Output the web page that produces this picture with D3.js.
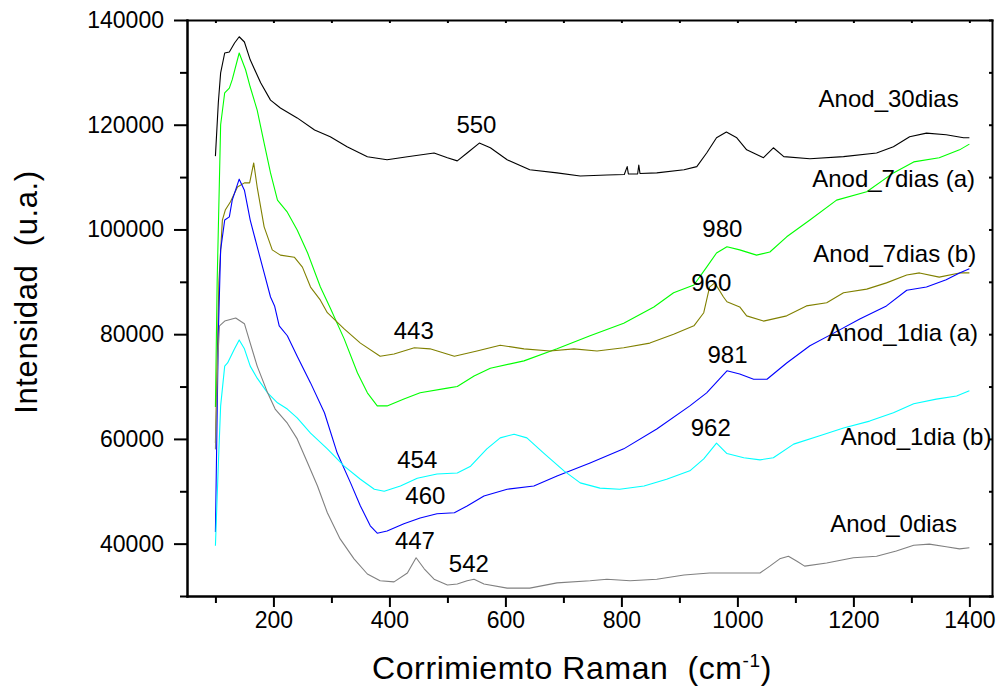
<!DOCTYPE html>
<html>
<head>
<meta charset="utf-8">
<script src="https://cdn.jsdelivr.net/npm/d3@7"></script>
<style>
  body { margin: 0; background: #fff; }
  svg { display: block; font-family: "Liberation Sans", Arial, sans-serif; }
  .axis path, .axis line { stroke: #000; stroke-width: 2; }
  .axis text { font-size: 23px; fill: #000; }
  .note { font-size: 24px; fill: #000; }
</style>
</head>
<body>
<script>
// ----- Data (Raman shift in cm-1, intensity in u.a.) -----

const seriesNames = ["Anod_30dias", "Anod_7dias (a)", "Anod_7dias (b)", "Anod_1dia (a)", "Anod_1dia (b)", "Anod_0dias"];
const seriesColors = ["#000000", "#00ff00", "#808000", "#0000ff", "#00ffff", "#808080"];

const shift30 = [100, 105, 109, 116, 124, 133, 141, 150, 160, 178, 195, 212, 241, 271, 298, 327, 362, 396, 431, 477, 500, 517, 534, 555, 574, 603, 642, 689, 729, 775, 805, 810, 812, 828, 830, 832, 861, 908, 930, 947, 964, 981, 999, 1016, 1045, 1062, 1080, 1125, 1183, 1240, 1269, 1297, 1326, 1360, 1390, 1400];
const int30 = [114000, 124200, 129900, 133700, 133900, 135600, 136800, 135800, 132400, 128000, 124700, 123200, 121300, 119000, 117700, 115800, 113900, 113300, 113900, 114600, 113700, 113100, 114600, 116500, 115600, 113300, 111400, 110800, 110200, 110400, 110500, 112000, 110600, 110600, 112300, 110700, 110800, 111400, 112000, 114600, 117500, 118600, 117500, 115200, 113700, 115600, 113900, 113500, 113900, 114600, 115800, 117700, 118400, 118100, 117500, 117500];

const shift7a = [100, 103, 109, 116, 124, 129, 141, 152, 160, 172, 184, 195, 207, 224, 241, 259, 281, 298, 322, 345, 362, 379, 396, 425, 453, 500, 517, 546, 574, 632, 689, 746, 804, 856, 890, 925, 947, 964, 982, 1004, 1033, 1056, 1085, 1125, 1171, 1223, 1269, 1304, 1348, 1383, 1400];
const int7a = [66100, 90000, 120000, 126100, 127000, 128600, 133700, 130500, 127200, 122800, 116500, 110800, 105600, 103300, 99900, 95500, 89000, 85000, 79100, 72600, 68800, 66300, 66300, 67600, 68800, 69700, 70000, 72000, 73500, 74900, 77200, 79700, 82100, 85200, 87900, 89400, 92800, 95500, 96700, 96100, 95100, 95700, 98600, 101800, 105600, 107200, 110800, 112900, 113700, 115200, 116300];

const shift7b = [100, 106, 112, 117, 126, 138, 150, 159, 166, 172, 184, 198, 212, 236, 250, 264, 281, 293, 322, 350, 384, 408, 443, 470, 512, 551, 591, 632, 677, 718, 758, 804, 849, 890, 925, 942, 952, 961, 976, 982, 1004, 1016, 1045, 1085, 1119, 1154, 1183, 1223, 1257, 1292, 1314, 1348, 1383, 1400];
const int7b = [59200, 90000, 101800, 103700, 105300, 108100, 108900, 108900, 112700, 108100, 100500, 96100, 95100, 94700, 92800, 89000, 86500, 84100, 81000, 78300, 75800, 76200, 77400, 77200, 75800, 76800, 77900, 77200, 76800, 77200, 76800, 77400, 78300, 80000, 81600, 84100, 89000, 89800, 87100, 86200, 85200, 83500, 82500, 83500, 85400, 86000, 87900, 88600, 89800, 91300, 91700, 90900, 91700, 91700];

const shift1a = [100, 105, 109, 116, 124, 129, 141, 150, 160, 172, 184, 195, 202, 210, 224, 241, 264, 288, 310, 333, 350, 367, 379, 396, 425, 453, 482, 512, 534, 563, 603, 649, 689, 746, 804, 861, 918, 947, 982, 1004, 1028, 1051, 1085, 1125, 1166, 1211, 1257, 1292, 1326, 1360, 1383, 1400];
const int1a = [42200, 80000, 96100, 101800, 102400, 105600, 109600, 107500, 101800, 96700, 91700, 87100, 85400, 81600, 79700, 75800, 70700, 65000, 57300, 51600, 47200, 43400, 42000, 42400, 43800, 44900, 45700, 45900, 47200, 49100, 50400, 51000, 52900, 55400, 58100, 61900, 66300, 68800, 73000, 72400, 71400, 71400, 74500, 77800, 80200, 82900, 85400, 88400, 89000, 90400, 91700, 92500];

const shift1b = [100, 105, 109, 116, 121, 133, 141, 150, 160, 172, 190, 207, 224, 241, 264, 293, 322, 350, 374, 391, 419, 448, 482, 517, 540, 568, 591, 615, 637, 666, 701, 729, 763, 797, 839, 878, 918, 942, 964, 982, 1011, 1039, 1062, 1097, 1142, 1183, 1228, 1269, 1304, 1343, 1378, 1400];
const int1b = [39600, 55000, 66300, 73900, 74500, 77200, 78900, 77200, 73900, 71600, 68800, 66900, 65700, 64000, 61100, 58100, 54800, 52300, 50400, 50000, 51000, 52500, 53300, 53500, 54800, 58100, 60200, 60900, 60200, 57300, 53900, 51600, 50600, 50400, 51000, 52300, 53900, 56200, 59200, 57200, 56400, 56000, 56400, 59000, 60600, 62100, 63400, 65000, 66700, 67600, 68200, 69200];

const shift0 = [100, 104, 107, 116, 135, 150, 160, 172, 190, 203, 224, 241, 259, 276, 293, 315, 339, 362, 384, 408, 431, 446, 460, 477, 500, 517, 534, 546, 563, 603, 642, 689, 746, 775, 815, 861, 908, 952, 1011, 1039, 1056, 1073, 1088, 1102, 1116, 1154, 1200, 1240, 1274, 1304, 1331, 1360, 1383, 1400];
const int0 = [58000, 75000, 81600, 82500, 83100, 82000, 78300, 73900, 68800, 65700, 63000, 60000, 55400, 51000, 45900, 40900, 37100, 34200, 32900, 32700, 34400, 37300, 35200, 33200, 32100, 32300, 32900, 33200, 32300, 31500, 31500, 32500, 32900, 33200, 32900, 33200, 34000, 34400, 34400, 34400, 35700, 37100, 37600, 36700, 35700, 36300, 37300, 37600, 38600, 39700, 39900, 39400, 39000, 39200];

// series name labels, anchored at (shift, intensity)
const nameShift = [1140, 1129, 1131, 1155, 1178, 1160];
const nameInt = [123400, 108100, 93800, 78700, 58840, 42220];

// peak labels
const peakLabels = ["550", "980", "960", "443", "981", "962", "454", "460", "447", "542"];
const peakShift = [550, 974, 955, 442, 983, 954, 448, 462, 444, 537];
const peakInt = [118400, 98570, 88250, 79090, 74560, 60560, 54500, 47570, 38980, 34640];

const majorX = [200, 400, 600, 800, 1000, 1200, 1400];
const minorX = [100, 300, 500, 700, 900, 1100, 1300];
const majorY = [40000, 60000, 80000, 100000, 120000, 140000];
const minorY = [30000, 50000, 70000, 90000, 110000, 130000];

// ----- Layout -----
const Width = 1002, Height = 692;
const PlotLeft = 187, PlotRight = 992, PlotTop = 20, PlotBottom = 596;

function main() {
    const svg = d3.select("body").append("svg")
        .attr("width", Width)
        .attr("height", Height);

    const scaleX = d3.scaleLinear()
        .domain([51, 1439])
        .range([PlotLeft, PlotRight]);
    const scaleY = d3.scaleLinear()
        .domain([30000, 140000])
        .range([PlotBottom, PlotTop]);

    const allSeries = [
        [shift30, int30], [shift7a, int7a], [shift7b, int7b],
        [shift1a, int1a], [shift1b, int1b], [shift0, int0]
    ];

    // Curves (drawn first so the frame sits on top)
    const line = d3.line()
        .x(d => scaleX(d[0]))
        .y(d => scaleY(d[1]));
    const curves = svg.append("g").attr("class", "curves");
    allSeries.forEach(([xs, ys], i) => {
        curves.append("path")
            .datum(xs.map((x, j) => [x, ys[j]]))
            .attr("fill", "none")
            .attr("stroke", seriesColors[i])
            .attr("stroke-width", 1.1)
            .attr("stroke-linejoin", "round")
            .attr("d", line);
    });

    // Bottom axis: major with labels, minor without
    svg.append("g")
        .attr("class", "axis")
        .attr("transform", `translate(0, ${PlotBottom})`)
        .call(d3.axisBottom(scaleX).tickValues(majorX).tickSize(11).tickSizeOuter(0).tickPadding(5).tickFormat(d3.format("d")));
    svg.append("g")
        .attr("class", "axis")
        .attr("transform", `translate(0, ${PlotBottom})`)
        .call(d3.axisBottom(scaleX).tickValues(minorX).tickSize(7).tickSizeOuter(0).tickFormat(""));

    // Left axis
    svg.append("g")
        .attr("class", "axis")
        .attr("transform", `translate(${PlotLeft}, 0)`)
        .call(d3.axisLeft(scaleY).tickValues(majorY).tickSize(13).tickSizeOuter(0).tickPadding(10).tickFormat(d3.format("d")));
    svg.append("g")
        .attr("class", "axis")
        .attr("transform", `translate(${PlotLeft}, 0)`)
        .call(d3.axisLeft(scaleY).tickValues(minorY).tickSize(7).tickSizeOuter(0).tickFormat(""));

    // Top and right frame with small inner ticks
    svg.append("g")
        .attr("class", "axis")
        .attr("transform", `translate(0, ${PlotTop})`)
        .call(d3.axisBottom(scaleX).tickValues(majorX.concat(minorX)).tickSize(3).tickSizeOuter(0).tickFormat(""));
    svg.append("g")
        .attr("class", "axis")
        .attr("transform", `translate(${PlotRight}, 0)`)
        .call(d3.axisLeft(scaleY).tickValues(majorY.concat(minorY)).tickSize(3).tickSizeOuter(0).tickFormat(""));
    svg.selectAll(".axis .domain").attr("stroke-linecap", "square");

    // Series name labels
    svg.append("g").selectAll("text")
        .data(seriesNames)
        .enter()
        .append("text")
            .attr("class", "note")
            .attr("x", (d, i) => scaleX(nameShift[i]))
            .attr("y", (d, i) => scaleY(nameInt[i]))
            .text(d => d);

    // Peak labels
    svg.append("g").selectAll("text")
        .data(peakLabels)
        .enter()
        .append("text")
            .attr("class", "note")
            .attr("text-anchor", "middle")
            .attr("x", (d, i) => scaleX(peakShift[i]))
            .attr("y", (d, i) => scaleY(peakInt[i]))
            .text(d => d);

    // Axis titles
    const xTitle = svg.append("text")
        .attr("text-anchor", "middle")
        .attr("x", 572)
        .attr("y", 679)
        .style("font-size", "32px")
        .style("letter-spacing", "0.6px");
    xTitle.append("tspan").text("Corrimiemto Raman\u00a0\u00a0(cm");
    xTitle.append("tspan").text("-1").attr("dy", -12).style("font-size", "19px");
    xTitle.append("tspan").text(")").attr("dy", 12);

    svg.append("text")
        .attr("text-anchor", "middle")
        .attr("transform", "translate(37, 292) rotate(-90)")
        .style("font-size", "31px")
        .style("letter-spacing", "0.6px")
        .text("Intensidad\u00a0\u00a0(u.a.)");
}

main();
</script>
</body>
</html>
